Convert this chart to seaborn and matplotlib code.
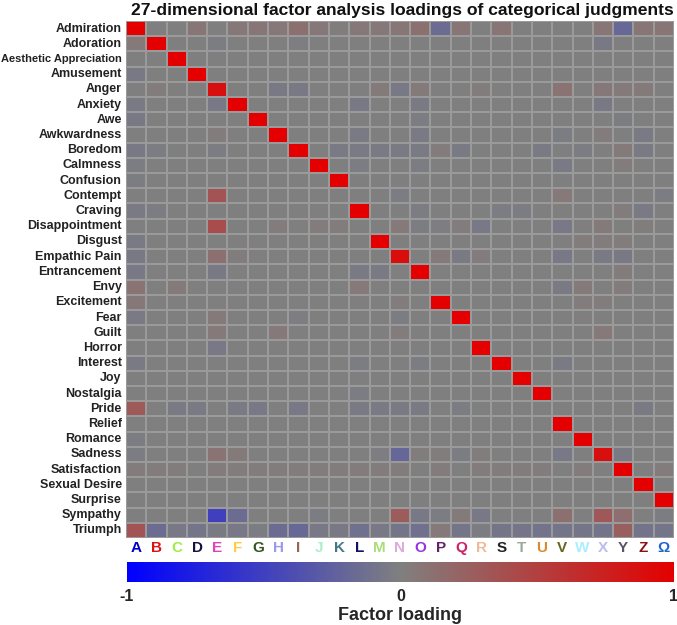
import numpy as np
import pandas as pd
import matplotlib
matplotlib.use("Agg")
import matplotlib.pyplot as plt
import seaborn as sns
from matplotlib.colors import LinearSegmentedColormap

emotions = ["Admiration", "Adoration", "Aesthetic Appreciation", "Amusement", "Anger",
            "Anxiety", "Awe", "Awkwardness", "Boredom", "Calmness", "Confusion",
            "Contempt", "Craving", "Disappointment", "Disgust", "Empathic Pain",
            "Entrancement", "Envy", "Excitement", "Fear", "Guilt", "Horror",
            "Interest", "Joy", "Nostalgia", "Pride", "Relief", "Romance", "Sadness",
            "Satisfaction", "Sexual Desire", "Surprise", "Sympathy", "Triumph"]

factors = ["A", "B", "C", "D", "E", "F", "G", "H", "I", "J", "K", "L", "M", "N",
           "O", "P", "Q", "R", "S", "T", "U", "V", "W", "X", "Y", "Z", "Ω"]

factor_colors = ["#0000cc", "#dd1111", "#99ee44", "#111144", "#dd44bb", "#ffcc44",
                 "#335522", "#9999ee", "#996655", "#aaeecc", "#447788", "#111166",
                 "#aadd77", "#ddaadd", "#9933dd", "#662266", "#cc2266", "#eebb99",
                 "#222222", "#99aa99", "#dd8833", "#666622", "#aaeeff", "#bbbbee",
                 "#555566", "#881111", "#2266cc"]

#           A     B     C     D     E     F     G     H     I     J     K     L     M     N     O     P     Q     R     S     T     U     V     W     X     Y     Z     Ω
loadings = [
    [1.00, 0.00, 0.00, 0.08, 0.00, 0.06, 0.08, 0.06, 0.12, 0.06, 0.02, 0.06, 0.06, 0.08, 0.12, -.15, 0.08, 0.00, 0.08, 0.00, 0.00, 0.00, 0.00, 0.08, -.18, 0.08, 0.08],
    [0.05, 1.00, 0.00, 0.00, -.03, 0.00, 0.00, 0.00, -.02, 0.00, 0.00, 0.00, 0.00, 0.00, 0.00, 0.00, 0.00, 0.00, 0.00, 0.00, 0.00, 0.00, 0.00, -.05, 0.00, 0.00, 0.00],
    [0.00, 0.00, 1.00, 0.00, 0.00, 0.00, 0.00, 0.00, 0.00, 0.00, 0.00, 0.00, 0.00, 0.00, 0.00, 0.00, 0.00, 0.00, 0.00, 0.00, 0.00, 0.00, 0.00, 0.00, 0.00, 0.00, 0.00],
    [-.05, 0.00, 0.00, 1.00, 0.00, 0.00, 0.00, 0.00, 0.00, 0.00, 0.00, 0.00, 0.00, 0.00, 0.00, 0.00, 0.00, 0.00, 0.00, 0.00, 0.00, 0.00, 0.00, 0.00, 0.00, 0.00, 0.00],
    [0.00, 0.03, 0.00, 0.00, 0.88, 0.00, 0.00, -.05, -.05, 0.00, 0.00, 0.00, 0.04, -.05, 0.04, 0.00, 0.00, 0.03, 0.00, 0.00, 0.00, 0.10, 0.00, 0.06, 0.04, 0.04, 0.00],
    [-.04, 0.00, 0.00, 0.00, -.06, 1.00, 0.00, 0.00, 0.00, 0.00, 0.00, -.05, 0.00, 0.00, -.04, 0.00, 0.00, 0.00, 0.00, 0.00, 0.00, 0.00, 0.00, -.05, 0.00, 0.00, 0.00],
    [-.05, 0.00, 0.00, 0.00, 0.00, 0.00, 1.00, 0.00, 0.00, 0.00, 0.00, 0.00, 0.00, 0.00, -.03, 0.00, 0.00, 0.00, 0.00, 0.00, 0.00, 0.00, 0.00, 0.00, -.03, 0.00, 0.00],
    [0.00, 0.00, 0.00, 0.00, 0.03, 0.00, 0.00, 1.00, 0.00, 0.00, 0.00, -.04, 0.00, 0.00, -.04, 0.00, 0.00, 0.00, 0.00, 0.00, 0.00, -.03, 0.00, 0.03, 0.00, -.04, 0.00],
    [-.05, -.03, 0.00, 0.00, -.03, 0.00, 0.00, 0.00, 1.00, 0.00, -.04, -.04, -.04, -.04, -.04, 0.03, -.04, 0.00, 0.00, 0.00, -.04, 0.00, -.03, 0.00, 0.04, -.04, 0.00],
    [-.03, 0.00, 0.00, 0.00, 0.00, 0.00, 0.00, 0.00, 0.00, 1.00, 0.00, -.03, 0.00, 0.00, -.03, 0.00, 0.00, 0.00, 0.00, 0.00, 0.00, -.04, 0.00, 0.00, 0.03, 0.00, 0.00],
    [-.03, 0.00, 0.00, 0.00, 0.00, 0.00, 0.00, 0.00, 0.00, 0.00, 1.00, 0.00, 0.00, 0.00, 0.00, 0.00, 0.00, 0.00, 0.00, 0.00, 0.00, 0.00, 0.00, 0.00, 0.00, 0.00, 0.00],
    [0.00, 0.00, 0.00, 0.00, 0.35, 0.00, 0.00, 0.00, 0.00, 0.00, 0.00, 0.00, 0.00, -.03, 0.00, 0.00, 0.00, 0.00, 0.00, 0.00, 0.00, 0.05, 0.00, 0.00, 0.00, 0.00, -.03],
    [-.04, -.03, 0.00, 0.00, 0.00, 0.00, 0.00, 0.00, 0.00, 0.00, 0.00, 1.00, 0.00, 0.00, -.03, 0.00, 0.00, 0.00, -.03, -.03, 0.00, 0.00, 0.00, 0.00, 0.03, -.04, 0.00],
    [0.00, 0.00, 0.00, 0.00, 0.40, 0.00, 0.00, 0.03, 0.00, 0.03, 0.03, 0.00, 0.00, 0.05, -.03, -.02, 0.03, -.06, 0.00, 0.00, 0.00, -.06, 0.00, 0.04, 0.00, 0.02, 0.00],
    [-.04, 0.00, 0.00, 0.00, 0.00, 0.00, 0.00, 0.00, 0.00, 0.00, 0.00, 0.00, 1.00, 0.00, 0.00, 0.00, 0.00, 0.00, 0.00, 0.00, 0.00, 0.00, 0.03, 0.03, 0.03, 0.00, 0.00],
    [-.05, 0.00, 0.00, 0.00, 0.12, 0.02, 0.00, 0.00, 0.00, 0.00, 0.00, 0.00, 0.00, 0.90, 0.00, 0.04, -.04, 0.03, 0.00, 0.00, 0.00, -.06, 0.00, -.04, -.05, 0.00, 0.00],
    [-.06, 0.00, 0.00, 0.00, -.05, 0.00, 0.00, 0.00, 0.00, 0.00, 0.00, -.04, -.04, 0.00, 1.00, 0.00, 0.00, 0.00, 0.00, 0.00, 0.00, 0.00, 0.00, 0.00, 0.03, 0.00, 0.00],
    [0.10, 0.00, 0.04, 0.00, 0.00, 0.00, 0.00, 0.00, 0.00, 0.00, 0.00, 0.05, 0.00, 0.00, 0.00, 0.00, 0.00, 0.00, 0.00, 0.00, 0.00, -.04, 0.04, 0.00, 0.03, 0.00, 0.00],
    [0.06, 0.00, 0.00, 0.00, 0.00, 0.00, 0.00, 0.00, 0.00, 0.00, 0.00, 0.00, 0.00, 0.03, 0.00, 1.00, 0.00, 0.00, 0.00, 0.00, 0.00, 0.00, 0.03, 0.03, 0.00, 0.00, 0.00],
    [-.04, 0.00, 0.00, 0.00, 0.04, 0.00, 0.00, 0.00, -.02, 0.00, 0.00, 0.00, 0.00, -.03, 0.00, 0.00, 1.00, 0.00, 0.00, 0.00, 0.00, 0.00, 0.00, 0.00, 0.00, 0.00, 0.00],
    [0.00, 0.00, 0.00, 0.00, 0.05, 0.00, 0.00, 0.05, 0.00, 0.00, 0.00, 0.00, 0.00, 0.03, 0.00, 0.00, 0.00, 0.00, 0.00, 0.00, 0.00, 0.00, 0.00, 0.05, 0.00, 0.00, 0.00],
    [0.00, 0.00, 0.00, 0.00, -.06, 0.00, 0.00, 0.00, 0.00, 0.00, 0.00, 0.00, 0.00, 0.00, 0.00, 0.00, 0.00, 1.00, 0.00, 0.00, 0.00, 0.00, 0.00, 0.00, 0.00, 0.00, 0.00],
    [-.04, 0.00, 0.00, 0.00, 0.00, 0.00, 0.00, 0.00, 0.00, 0.00, 0.00, -.03, 0.00, 0.00, -.03, 0.00, 0.00, 0.00, 1.00, 0.00, 0.00, -.04, 0.00, 0.00, 0.00, 0.00, 0.00],
    [0.00, 0.00, 0.00, 0.00, 0.00, 0.00, 0.00, 0.00, 0.00, 0.00, 0.00, 0.00, 0.00, 0.00, 0.00, 0.00, 0.00, 0.00, 0.00, 1.00, 0.00, 0.00, 0.00, 0.00, 0.00, 0.00, 0.00],
    [0.00, 0.00, 0.00, 0.00, 0.00, 0.00, 0.00, 0.00, 0.00, 0.00, 0.00, -.03, 0.00, 0.00, 0.00, 0.00, 0.00, 0.00, 0.00, 0.00, 1.00, 0.00, 0.00, 0.00, 0.00, 0.00, 0.00],
    [0.30, 0.00, -.04, -.04, 0.00, -.04, -.06, 0.00, -.06, 0.00, 0.00, -.04, -.04, -.04, -.04, 0.00, -.03, 0.00, 0.00, 0.00, 0.00, 0.00, 0.00, 0.00, 0.00, -.04, 0.00],
    [0.00, 0.00, 0.00, 0.00, 0.00, 0.00, 0.00, 0.00, 0.00, 0.00, 0.00, 0.00, 0.00, 0.00, 0.00, 0.00, 0.00, 0.00, 0.00, 0.00, 0.00, 1.00, 0.00, 0.00, 0.00, 0.00, 0.00],
    [-.03, 0.00, 0.00, 0.00, 0.00, 0.00, 0.00, 0.00, 0.00, 0.00, 0.00, 0.00, 0.00, 0.00, 0.00, 0.00, 0.00, 0.00, 0.00, 0.00, 0.00, 0.00, 1.00, 0.00, 0.00, 0.00, 0.00],
    [-.03, 0.00, 0.00, 0.00, 0.10, 0.04, 0.00, 0.00, 0.00, 0.00, 0.00, 0.00, -.02, -.20, 0.02, 0.02, -.03, 0.02, 0.00, 0.00, 0.00, -.06, 0.00, 0.88, -.04, 0.00, 0.00],
    [0.03, 0.03, 0.03, 0.00, 0.03, 0.03, 0.03, 0.03, 0.03, 0.03, 0.03, 0.03, 0.03, 0.03, 0.00, 0.03, 0.00, 0.03, 0.03, 0.03, 0.03, 0.00, 0.03, 0.00, 1.00, 0.00, 0.03],
    [0.00, 0.00, 0.00, 0.00, 0.00, 0.00, 0.00, 0.00, 0.00, 0.00, 0.00, 0.00, 0.00, 0.00, 0.00, 0.00, 0.00, 0.00, 0.00, 0.00, 0.00, 0.00, 0.00, 0.00, 0.00, 1.00, 0.00],
    [0.00, 0.00, 0.00, 0.00, 0.00, 0.00, 0.00, 0.00, 0.00, 0.00, 0.00, 0.00, 0.00, 0.00, 0.00, 0.00, 0.00, 0.00, 0.00, 0.00, 0.00, 0.00, 0.00, 0.00, 0.00, 0.00, 1.00],
    [0.00, 0.00, 0.00, 0.00, -.50, -.15, 0.00, 0.00, 0.00, -.03, 0.00, 0.00, 0.00, 0.28, -.06, -.03, 0.04, -.06, 0.00, 0.00, 0.00, 0.12, 0.00, 0.32, 0.14, 0.00, -.03],
    [0.35, -.15, -.06, -.08, -.04, -.06, -.03, -.15, -.18, -.06, -.05, -.12, -.06, -.08, -.12, 0.05, -.08, -.03, -.08, -.08, -.10, -.08, -.08, -.10, 0.25, -.10, -.08],
]

colorbar_ticks = [-1, 0, 1]
colorbar_ticklabels = ["-1", "0", "1"]

sns.set_theme(style="white")
plt.rcParams["font.family"] = ["Liberation Sans", "DejaVu Sans"]

df = pd.DataFrame(loadings, index=emotions, columns=factors)
cmap = LinearSegmentedColormap.from_list("bgr", ["#0000ff", "#808080", "#e40000"])

fig = plt.figure(figsize=(6.77, 6.25), dpi=100)
ax = fig.add_axes([126 / 677, 1 - 538 / 625, 548 / 677, 517 / 625])
cax = fig.add_axes([127 / 677, 1 - 582 / 625, 547 / 677, 20 / 625])

sns.heatmap(df, ax=ax, cmap=cmap, vmin=-1, vmax=1, linewidths=1.1,
            linecolor="#9a9a9a", cbar_ax=cax,
            cbar_kws={"orientation": "horizontal", "ticks": colorbar_ticks})

ax.set_yticks(np.arange(len(emotions)) + 0.5)
ax.set_yticklabels(emotions, fontweight="bold", fontsize=9, color="#222222")
for lab in ax.get_yticklabels():
    if lab.get_text() == "Aesthetic Appreciation":
        lab.set_fontsize(8.0)
ax.set_xticks(np.arange(len(factors)) + 0.5)
ax.set_xticklabels(factors, fontweight="bold", fontsize=11, rotation=0)
for lab, c in zip(ax.get_xticklabels(), factor_colors):
    lab.set_color(c)
ax.tick_params(axis="both", length=0, pad=3)
ax.tick_params(axis="x", pad=2)
ax.set_xlabel("")
ax.set_ylabel("")

cbar = ax.collections[0].colorbar
cbar.outline.set_visible(False)
cax.set_xticks(colorbar_ticks)
cax.set_xticklabels(colorbar_ticklabels, fontweight="bold", fontsize=11.5)
cax.tick_params(axis="x", length=0, pad=5)
cax.set_xlabel("Factor loading", fontweight="bold", fontsize=13, labelpad=2)

fig.text(0.595, 0.984, "27-dimensional factor analysis loadings of categorical judgments",
         ha="center", va="center", fontsize=12.6, fontweight="bold", color="#111111")

fig.savefig("out.png", dpi=100)
